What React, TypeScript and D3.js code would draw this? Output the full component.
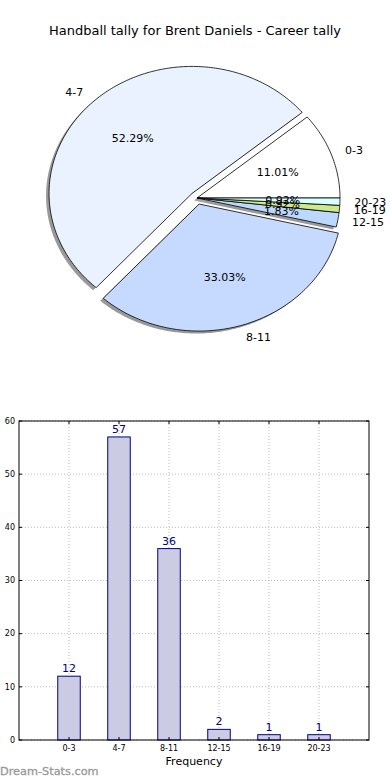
import * as React from 'react'
import * as d3 from 'd3'

const width = 390
const height = 780
const font = 'DejaVu Sans, sans-serif'

const categories = ['0-3', '4-7', '8-11', '12-15', '16-19', '20-23']
const counts = [12, 57, 36, 2, 1, 1]
const sliceColors = ['#ffffff', '#eaf2ff', '#c6daff', '#bcd8ff', '#cde98a', '#d9ffff']
const explode = [0, 0.05, 0.05, 0, 0, 0]
const yTicks = [0, 10, 20, 30, 40, 50, 60]

// pie geometry (matplotlib draws it as an ellipse here)
const cx = 197
const cy = 198
const rx = 143
const ry = 127

// bar chart frame
const margin = { top: 421, right: 20, bottom: 40, left: 19 }

const App = () => {
  const total = d3.sum(counts)
  const pie = d3
    .pie<number>()
    .sort(null)
    .value(d => d)
  const arcs = pie(counts)

  // d3 angles are clockwise from north; matplotlib goes counterclockwise from east
  const slices = arcs.map((a, i) => {
    const t0 = (a.startAngle / (2 * Math.PI)) * 360
    const t1 = (a.endAngle / (2 * Math.PI)) * 360
    const mid = ((t0 + t1) / 2) * (Math.PI / 180)
    const ox = cx + explode[i] * rx * Math.cos(mid)
    const oy = cy - explode[i] * ry * Math.sin(mid)
    const pts: [number, number][] = [[ox, oy]]
    const steps = Math.max(4, Math.ceil(t1 - t0))
    for (let s = 0; s <= steps; s++) {
      const t = ((t0 + ((t1 - t0) * s) / steps) * Math.PI) / 180
      pts.push([ox + rx * Math.cos(t), oy - ry * Math.sin(t)])
    }
    const path = d3.line()(pts) + 'Z'
    return { i, mid, ox, oy, path }
  })

  const x = d3
    .scaleLinear()
    .domain([-1, 6])
    .range([margin.left, width - margin.right - 1])
  const y = d3
    .scaleLinear()
    .domain([0, 60])
    .range([height - margin.bottom, margin.top])
  const barW = x(0.45) - x(0)

  return (
    <svg width={width} height={height} style={{ position: 'absolute', left: 0, top: 0 }} fontFamily={font}>
      <rect width={width} height={height} fill="#fff" />
      <text x={195} y={35} textAnchor="middle" fontSize={13}>
        Handball tally for Brent Daniels - Career tally
      </text>

      {/* shadows */}
      {slices.map(s => (
        <path key={'sh' + s.i} d={s.path} fill="#000" opacity={0.4} transform="translate(-3,2.5)" />
      ))}
      {slices.map(s => (
        <path key={'w' + s.i} d={s.path} fill={sliceColors[s.i]} stroke="#000" strokeWidth={0.8} strokeLinejoin="round" />
      ))}
      {slices.map(s => {
        const c = Math.cos(s.mid)
        const sn = Math.sin(s.mid)
        return (
          <g key={'l' + s.i} fontSize={11}>
            <text x={s.ox + 0.6 * rx * c} y={s.oy - 0.6 * ry * sn} textAnchor="middle" dy="0.35em">
              {((counts[s.i] / total) * 100).toFixed(2) + '%'}
            </text>
            <text x={s.ox + 1.1 * rx * c} y={s.oy - 1.1 * ry * sn} textAnchor={c > 0 ? 'start' : 'end'} dy="0.35em">
              {categories[s.i]}
            </text>
          </g>
        )
      })}

      {/* bar chart */}
      <g>
        {yTicks.map(t => (
          <g key={'gy' + t}>
            <line x1={x(-1)} x2={x(6)} y1={y(t)} y2={y(t)} stroke="#bbb" strokeDasharray="1,2" />
            <text x={15} y={y(t)} textAnchor="end" dy="0.35em" fontSize={8}>
              {t}
            </text>
          </g>
        ))}
        {categories.map((c, i) => (
          <g key={'gx' + c}>
            <line x1={x(i)} x2={x(i)} y1={y(0)} y2={y(60)} stroke="#bbb" strokeDasharray="1,2" />
          </g>
        ))}
        {counts.map((v, i) => (
          <g key={'b' + i}>
            <rect
              x={x(i) - barW / 2}
              y={y(v)}
              width={barW}
              height={y(0) - y(v)}
              fill="#cbcbe3"
              stroke="#000080"
              strokeWidth={1}
            />
            <text x={x(i)} y={y(v) - 4} textAnchor="middle" fontSize={11} fill="#000080">
              {v}
            </text>
          </g>
        ))}
        {categories.map((c, i) => (
          <g key={'tx' + c}>
            <line x1={x(i)} x2={x(i)} y1={y(0)} y2={y(0) - 3} stroke="#000" />
            <line x1={x(i)} x2={x(i)} y1={y(60)} y2={y(60) + 3} stroke="#000" />
            <text x={x(i)} y={y(0) + 11} textAnchor="middle" fontSize={8}>
              {c}
            </text>
          </g>
        ))}
        {yTicks.map(t => (
          <g key={'ty' + t}>
            <line x1={x(-1)} x2={x(-1) + 3} y1={y(t)} y2={y(t)} stroke="#000" />
            <line x1={x(6)} x2={x(6) - 3} y1={y(t)} y2={y(t)} stroke="#000" />
          </g>
        ))}
        <rect
          x={x(-1)}
          y={y(60)}
          width={x(6) - x(-1)}
          height={y(0) - y(60)}
          fill="none"
          stroke="#000"
          strokeWidth={1}
        />
        <text x={(x(-1) + x(6)) / 2} y={765} textAnchor="middle" fontSize={11}>
          Frequency
        </text>
      </g>
      <text x={0} y={775} fontSize={11.3} fill="#999" stroke="#999" strokeWidth={0.3}>
        Dream-Stats.com
      </text>
    </svg>
  )
}

export default App
